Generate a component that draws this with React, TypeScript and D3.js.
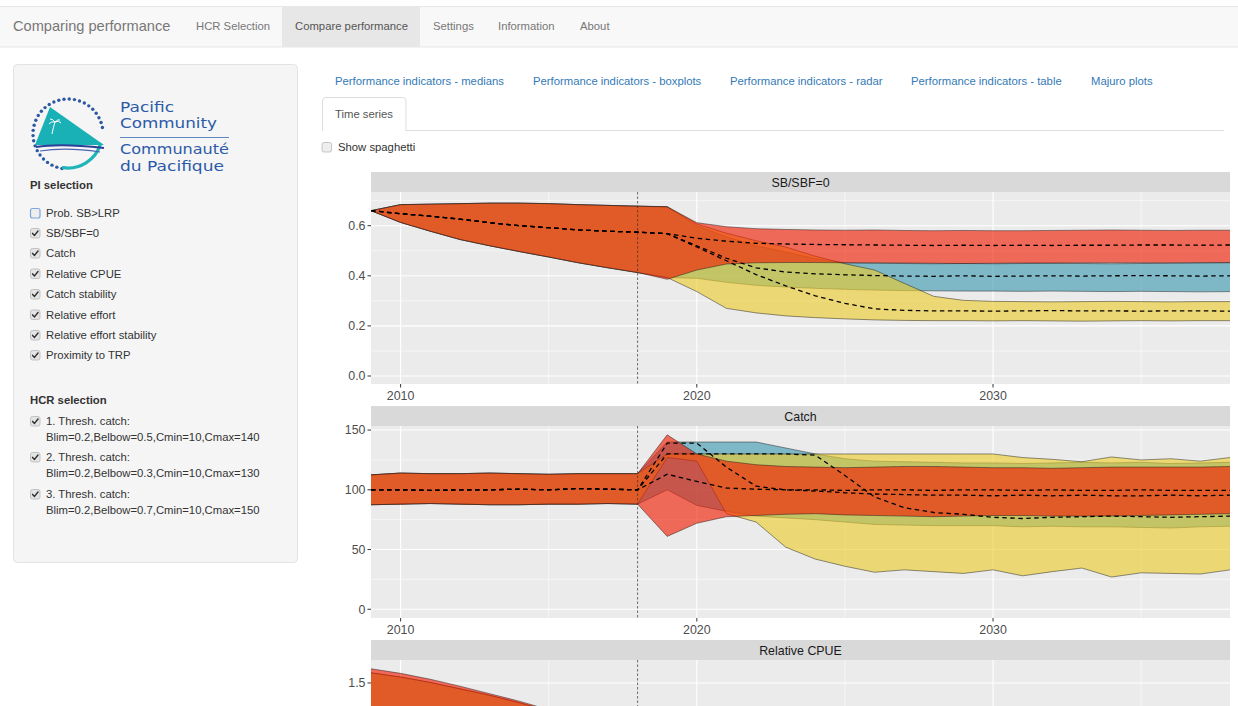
import * as d3 from "d3";

// ---- data ----
const years = [
  2009, 2010, 2011, 2012, 2013, 2014, 2015, 2016, 2017, 2018,
  2019, 2020, 2021, 2022, 2023, 2024, 2025, 2026, 2027, 2028,
  2029, 2030, 2031, 2032, 2033, 2034, 2035, 2036, 2037, 2038,
];
const hcrLabels = [
  ["1. Thresh. catch:", "Blim=0.2,Belbow=0.5,Cmin=10,Cmax=140"],
  ["2. Thresh. catch:", "Blim=0.2,Belbow=0.3,Cmin=10,Cmax=130"],
  ["3. Thresh. catch:", "Blim=0.2,Belbow=0.7,Cmin=10,Cmax=150"],
];
const hcrColours = ["#3B9AB2", "#EBCC2A", "#F21A00"];
const piLabels = [
  "Prob. SB>LRP", "SB/SBF=0", "Catch", "Relative CPUE", "Catch stability",
  "Relative effort", "Relative effort stability", "Proximity to TRP",
];
const piChecked = [false, true, true, true, true, true, true, true];
const navItems = ["HCR Selection", "Compare performance", "Settings", "Information", "About"];
const tabLinks = [
  "Performance indicators - medians", "Performance indicators - boxplots",
  "Performance indicators - radar", "Performance indicators - table", "Majuro plots",
];

// SB/SBF=0 : historical 2009-2018 (shared), projections 2019-2038 per HCR
const sbHistUpper = [0.66, 0.684, 0.686, 0.688, 0.69, 0.69, 0.688, 0.684, 0.681, 0.678];
const sbHistMedian = [0.66, 0.648, 0.638, 0.626, 0.612, 0.6, 0.592, 0.583, 0.578, 0.574];
const sbHistLower = [0.66, 0.613, 0.578, 0.545, 0.52, 0.497, 0.475, 0.452, 0.432, 0.413];
const sbUpper = [
  [0.675, 0.6, 0.555, 0.52, 0.495, 0.468, 0.452, 0.45, 0.449, 0.448, 0.449, 0.448, 0.449, 0.45, 0.449, 0.448, 0.449, 0.45, 0.451, 0.452],
  [0.675, 0.607, 0.57, 0.54, 0.515, 0.478, 0.448, 0.423, 0.37, 0.318, 0.302, 0.298, 0.297, 0.296, 0.297, 0.298, 0.297, 0.296, 0.297, 0.297],
  [0.676, 0.612, 0.596, 0.588, 0.585, 0.583, 0.582, 0.583, 0.581, 0.58, 0.581, 0.58, 0.58, 0.581, 0.582, 0.583, 0.582, 0.581, 0.582, 0.582],
];
const sbMedian = [
  [0.568, 0.52, 0.47, 0.432, 0.415, 0.408, 0.404, 0.401, 0.399, 0.398, 0.4, 0.398, 0.399, 0.4, 0.399, 0.4, 0.401, 0.4, 0.399, 0.4],
  [0.568, 0.515, 0.46, 0.405, 0.36, 0.32, 0.29, 0.268, 0.262, 0.26, 0.26, 0.259, 0.26, 0.261, 0.26, 0.26, 0.259, 0.26, 0.26, 0.259],
  [0.568, 0.55, 0.538, 0.53, 0.527, 0.525, 0.524, 0.523, 0.522, 0.521, 0.522, 0.521, 0.522, 0.521, 0.522, 0.522, 0.523, 0.523, 0.522, 0.523],
];
const sbLower = [
  [0.393, 0.39, 0.374, 0.362, 0.355, 0.35, 0.346, 0.343, 0.341, 0.34, 0.339, 0.339, 0.338, 0.339, 0.338, 0.337, 0.338, 0.337, 0.336, 0.337],
  [0.393, 0.337, 0.27, 0.252, 0.24, 0.233, 0.228, 0.224, 0.222, 0.221, 0.221, 0.22, 0.221, 0.22, 0.219, 0.22, 0.221, 0.22, 0.221, 0.221],
  [0.386, 0.423, 0.447, 0.452, 0.453, 0.453, 0.452, 0.452, 0.451, 0.45, 0.449, 0.45, 0.451, 0.451, 0.452, 0.452, 0.452, 0.452, 0.453, 0.453],
];

// Catch
const catchHistUpper = [112.5, 114, 113.5, 113.5, 114, 113.5, 113, 113.5, 113.5, 113.5];
const catchHistMedian = [100, 100, 99.5, 100, 100, 100.5, 100, 101, 100.5, 100];
const catchHistLower = [87.5, 88, 88.5, 88, 87.5, 87.5, 88, 88, 88.5, 88];
const catchUpper = [
  [140, 140, 140, 140, 135, 130, 126, 124, 123.5, 123, 122.5, 122.5, 122, 122.5, 123, 122.5, 123, 122, 122.5, 123],
  [130, 130, 130, 130, 130, 130, 130, 130, 130, 130, 130, 130, 127, 125.5, 123.5, 127.5, 125, 126, 124, 127],
  [146, 130, 124, 121, 119.5, 119, 118.5, 119, 119.5, 119.5, 119, 118.5, 118.5, 118, 118.5, 119, 119, 119, 119, 119.5],
];
const catchMedian = [
  [139, 139, 119, 103, 100, 99, 97.5, 96.5, 96, 95.5, 95.5, 95, 95.5, 95, 95.5, 95, 95, 95.5, 95, 95.5],
  [130, 130, 130, 130, 130, 129, 112, 94, 85, 81, 79.5, 77, 76, 77, 77.5, 78, 77.5, 77, 77.5, 78],
  [113, 107, 101.5, 100.5, 100, 100, 99.5, 100, 100, 99.5, 100, 100, 99.5, 100, 99.5, 99.5, 100, 99.5, 99.5, 99.5],
];
const catchLower = [
  [100, 87, 82, 78, 76.5, 75, 73, 71, 70.5, 70, 70, 70, 69, 69.5, 69, 69, 68.5, 68, 69, 69.5],
  [127, 124, 80, 73, 52, 42, 36, 31, 33, 31.5, 30, 33, 28, 31.5, 34.5, 27, 30.5, 30, 29.5, 33],
  [61, 72, 77.5, 78.5, 79.5, 80, 79, 78.5, 78, 77.5, 78, 78.5, 78.5, 78, 78, 78, 78.5, 79, 79.5, 80],
];

// Relative CPUE (only the top of this panel is on screen)
const cpueHistUpper = [
  [1.595, 1.555, 1.505, 1.445, 1.385, 1.315, 1.24, 1.17, 1.11, 1.06],
  [1.595, 1.555, 1.505, 1.445, 1.385, 1.315, 1.24, 1.17, 1.11, 1.06],
  [1.633, 1.59, 1.535, 1.47, 1.4, 1.33, 1.25, 1.18, 1.12, 1.07],
];
const cpueHistMedian = [1.2, 1.17, 1.13, 1.09, 1.04, 0.99, 0.94, 0.9, 0.86, 0.83];
const cpueHistLower = [0.85, 0.84, 0.81, 0.78, 0.74, 0.7, 0.66, 0.63, 0.6, 0.58];
const cpueUpper = [
  [1.06, 0.98, 0.92, 0.87, 0.84, 0.82, 0.81, 0.8, 0.8, 0.8, 0.79, 0.8, 0.8, 0.79, 0.8, 0.8, 0.8, 0.79, 0.8, 0.8],
  [1.06, 0.99, 0.93, 0.88, 0.84, 0.8, 0.76, 0.71, 0.64, 0.57, 0.54, 0.53, 0.53, 0.52, 0.53, 0.53, 0.52, 0.53, 0.53, 0.52],
  [1.07, 1.04, 1.03, 1.03, 1.03, 1.03, 1.02, 1.03, 1.02, 1.02, 1.02, 1.02, 1.02, 1.03, 1.03, 1.03, 1.02, 1.02, 1.03, 1.03],
];
const cpueMedian = [
  [0.84, 0.78, 0.72, 0.67, 0.64, 0.63, 0.62, 0.62, 0.61, 0.61, 0.61, 0.61, 0.6, 0.61, 0.61, 0.61, 0.6, 0.61, 0.61, 0.61],
  [0.84, 0.77, 0.7, 0.62, 0.55, 0.49, 0.44, 0.41, 0.4, 0.39, 0.39, 0.39, 0.39, 0.39, 0.39, 0.39, 0.39, 0.39, 0.39, 0.39],
  [0.84, 0.83, 0.82, 0.81, 0.81, 0.8, 0.8, 0.8, 0.8, 0.8, 0.8, 0.8, 0.8, 0.8, 0.8, 0.8, 0.8, 0.8, 0.8, 0.8],
];
const cpueLower = [
  [0.58, 0.57, 0.55, 0.53, 0.52, 0.51, 0.5, 0.5, 0.49, 0.49, 0.49, 0.49, 0.48, 0.49, 0.49, 0.48, 0.49, 0.49, 0.48, 0.49],
  [0.58, 0.5, 0.41, 0.37, 0.35, 0.34, 0.33, 0.33, 0.32, 0.32, 0.32, 0.32, 0.32, 0.32, 0.32, 0.32, 0.32, 0.32, 0.32, 0.32],
  [0.57, 0.63, 0.66, 0.67, 0.67, 0.67, 0.67, 0.67, 0.66, 0.66, 0.66, 0.67, 0.67, 0.67, 0.67, 0.67, 0.67, 0.67, 0.67, 0.67],
];

const xTicks = [2010, 2020, 2030];
const xMinor = [2015, 2025, 2035];
const lastHistoricYear = 2018;

const FONT = "'Liberation Sans', Arial, Helvetica, sans-serif";
const VIEW_H = 706;

interface PanelSpec {
  title: string;
  top: number;
  upper: number[][];
  median: number[][];
  lower: number[][];
  domain: [number, number];
  ticks: number[];
  minor: number[];
  fmt: (v: number) => string;
}

const panels: PanelSpec[] = [
  {
    title: "SB/SBF=0",
    top: 172,
    upper: sbUpper.map((p) => sbHistUpper.concat(p)),
    median: sbMedian.map((p) => sbHistMedian.concat(p)),
    lower: sbLower.map((p) => sbHistLower.concat(p)),
    domain: [-0.0319, 0.7345],
    ticks: [0, 0.2, 0.4, 0.6],
    minor: [0.1, 0.3, 0.5, 0.7],
    fmt: d3.format(".1f"),
  },
  {
    title: "Catch",
    top: 406,
    upper: catchUpper.map((p) => catchHistUpper.concat(p)),
    median: catchMedian.map((p) => catchHistMedian.concat(p)),
    lower: catchLower.map((p) => catchHistLower.concat(p)),
    domain: [-7.3, 153.4],
    ticks: [0, 50, 100, 150],
    minor: [25, 75, 125],
    fmt: d3.format("d"),
  },
  {
    title: "Relative CPUE",
    top: 640,
    upper: cpueUpper.map((p, i) => cpueHistUpper[i].concat(p)),
    median: cpueMedian.map((p) => cpueHistMedian.concat(p)),
    lower: cpueLower.map((p) => cpueHistLower.concat(p)),
    domain: [-0.0817, 1.715],
    ticks: [0, 0.5, 1, 1.5],
    minor: [0.25, 0.75, 1.25],
    fmt: d3.format(".1f"),
  },
];

const PX0 = 371;
const PX1 = 1230;
const STRIP = 20;
const PH = 192;

function Panel({ spec, idx }: { spec: PanelSpec; idx: number }) {
  const x = d3.scaleLinear().domain([2009, 2038]).range([PX0, PX1]);
  const pTop = spec.top + STRIP;
  const pBot = pTop + PH;
  const y = d3.scaleLinear().domain(spec.domain).range([pBot, pTop]);
  const line = (vals: number[]) =>
    d3.line<number>().x((_, i) => x(years[i])).y((v) => y(v))(vals) || "";
  const clip = `panel-clip-${idx}`;
  // the page is cut at the window's bottom edge: labels below it are not drawn
  const yTickLabels = spec.ticks.filter((v) => y(v) + 5 < VIEW_H);
  const showXLabels = pBot + 16 < VIEW_H;
  return (
    <g>
      <defs>
        <clipPath id={clip}>
          <rect x={PX0} y={pTop} width={PX1 - PX0} height={PH} />
        </clipPath>
      </defs>
      <rect x={PX0} y={spec.top} width={PX1 - PX0} height={STRIP} fill="#D9D9D9" />
      <text x={(PX0 + PX1) / 2} y={spec.top + 14.5} textAnchor="middle" fontSize={12.4} fill="#1A1A1A">
        {spec.title}
      </text>
      <rect x={PX0} y={pTop} width={PX1 - PX0} height={PH} fill="#EBEBEB" />
      <g clipPath={`url(#${clip})`}>
        {spec.minor.map((v) => (
          <line key={"ym" + v} x1={PX0} x2={PX1} y1={y(v)} y2={y(v)} stroke="#fff" strokeWidth={0.55} />
        ))}
        {xMinor.map((v) => (
          <line key={"xm" + v} x1={x(v)} x2={x(v)} y1={pTop} y2={pBot} stroke="#fff" strokeWidth={0.55} />
        ))}
        {spec.ticks.map((v) => (
          <line key={"y" + v} x1={PX0} x2={PX1} y1={y(v)} y2={y(v)} stroke="#fff" strokeWidth={1.1} />
        ))}
        {xTicks.map((v) => (
          <line key={"x" + v} x1={x(v)} x2={x(v)} y1={pTop} y2={pBot} stroke="#fff" strokeWidth={1.1} />
        ))}
        {spec.upper.map((up, h) => {
          const lo = spec.lower[h];
          const a = d3
            .area<number>()
            .x((_, i) => x(years[i]))
            .y0((_, i) => y(lo[i]))
            .y1((v) => y(v))(up) || "";
          return (
            <g key={"rib" + h}>
              <path d={a} fill={hcrColours[h]} fillOpacity={0.62} />
              <path d={line(up)} fill="none" stroke="#1a1a1a" strokeOpacity={0.8} strokeWidth={0.6} />
              <path d={line(lo)} fill="none" stroke="#1a1a1a" strokeOpacity={0.8} strokeWidth={0.6} />
            </g>
          );
        })}
        <line
          x1={x(lastHistoricYear)}
          x2={x(lastHistoricYear)}
          y1={pTop}
          y2={pBot}
          stroke="#333"
          strokeWidth={0.7}
          strokeDasharray="2.5,2"
        />
        {spec.median.map((m, h) => (
          <path key={"med" + h} d={line(m)} fill="none" stroke="#000" strokeWidth={1.3} strokeDasharray="4.5,3.5" />
        ))}
      </g>
      {spec.ticks.map((v) => (
        <line key={"ytm" + v} x1={PX0 - 3.5} x2={PX0} y1={y(v)} y2={y(v)} stroke="#333" strokeWidth={1} />
      ))}
      {yTickLabels.map((v) => (
        <text key={"yt" + v} x={PX0 - 5.5} y={y(v) + 4.4} textAnchor="end" fontSize={12.4} fill="#4D4D4D">
          {spec.fmt(v)}
        </text>
      ))}
      {xTicks.map((v) => (
        <g key={"xt" + v}>
          <line x1={x(v)} x2={x(v)} y1={pBot} y2={pBot + 3.5} stroke="#333" strokeWidth={1} />
          {showXLabels && (
            <text x={x(v)} y={pBot + 15.5} textAnchor="middle" fontSize={12.4} fill="#4D4D4D">
              {v}
            </text>
          )}
        </g>
      ))}
    </g>
  );
}

function CheckBox({ x, y, checked, focus }: { x: number; y: number; checked: boolean; focus?: boolean }) {
  return (
    <g>
      <rect
        x={x + 0.5}
        y={y + 0.5}
        width={9.5}
        height={9.5}
        rx={2}
        fill={checked ? "#e4e4e4" : "#eeeeee"}
        stroke={focus ? "#7ea7e0" : "#b8b8b8"}
        strokeWidth={focus ? 1.2 : 0.8}
      />
      {checked && (
        <path
          d={`M${x + 2.6},${y + 5.4} L${x + 4.5},${y + 7.4} L${x + 8},${y + 3}`}
          fill="none"
          stroke="#333"
          strokeWidth={1.5}
          strokeLinecap="round"
          strokeLinejoin="round"
        />
      )}
    </g>
  );
}

function Logo() {
  const cx = 68;
  const cy = 134;
  const r = 35;
  const dotAngles = d3.range(100, 356, 8.6);
  const rad = (a: number) => (a * Math.PI) / 180;
  const arcStart = [cx + (r - 1) * Math.cos(rad(98)), cy + (r - 1) * Math.sin(rad(98))];
  const arcEnd = [cx + (r - 1) * Math.cos(rad(18)), cy + (r - 1) * Math.sin(rad(18))];
  const logoText = "#2c5aa8";
  const logoFont = "'DejaVu Sans', sans-serif";
  return (
    <g>
      {dotAngles.map((a) => (
        <circle key={a} cx={cx + r * Math.cos(rad(a))} cy={cy + r * Math.sin(rad(a))} r={1.7} fill="#2b57a3" />
      ))}
      <path
        d={`M${arcStart[0]},${arcStart[1]} A${r - 1},${r - 1} 0 0 0 ${arcEnd[0]},${arcEnd[1]}`}
        fill="none"
        stroke="#1fb5b8"
        strokeWidth={3.2}
        strokeLinecap="round"
      />
      <path d="M50,107 L35,145 L104,145 Z" fill="#19b1b5" />
      <path
        d="M52,134 Q53,128 55,122 M55,122 q-4,-1 -6,2 M55,122 q4,-2 6,1 M55,122 q-2,-3 -5,-3 M55,122 q3,-3 5,-2"
        fill="none"
        stroke="#fff"
        strokeWidth={1}
      />
      <path d="M36,147 Q60,143 104,148" fill="none" stroke="#2d3f96" strokeWidth={2} />
      <path d="M40,151 Q66,147 100,152" fill="none" stroke="#4a63b0" strokeWidth={1.2} />
      <text x={120} y={111.5} fontSize={14.5} fill={logoText} fontFamily={logoFont} textLength={54} lengthAdjust="spacingAndGlyphs">
        Pacific
      </text>
      <text x={120} y={128} fontSize={14.5} fill={logoText} fontFamily={logoFont} textLength={97} lengthAdjust="spacingAndGlyphs">
        Community
      </text>
      <line x1={120} x2={229} y1={137.5} y2={137.5} stroke="#5f86c4" strokeWidth={1} />
      <text x={120} y={154} fontSize={14.5} fill={logoText} fontFamily={logoFont} textLength={109} lengthAdjust="spacingAndGlyphs">
        Communauté
      </text>
      <text x={120} y={170.5} fontSize={14.5} fill={logoText} fontFamily={logoFont} textLength={104} lengthAdjust="spacingAndGlyphs">
        du Pacifique
      </text>
    </g>
  );
}

export default function App() {
  const navX = [196, 295, 433, 498, 580];
  const tabX = [335, 533, 730, 911, 1091];
  const piY = [213, 233, 253, 273.5, 294, 314.5, 335, 355];
  const hcrY = [421, 457, 494];
  return (
    <div style={{ position: "fixed", left: 0, top: 0, width: 1238, height: VIEW_H, overflow: "hidden", background: "#fff" }}>
      <svg width={1238} height={VIEW_H} style={{ display: "block", fontFamily: FONT }}>
        {/* navbar */}
        <rect x={-1} y={6.5} width={1240} height={40.5} fill="#f8f8f8" stroke="#e7e7e7" />
        <rect x={282} y={7} width={138} height={40} fill="#e7e7e7" />
        <text x={13} y={31} fontSize={14.6} fill="#777">
          Comparing performance
        </text>
        {navItems.map((t, i) => (
          <text key={t} x={navX[i]} y={30} fontSize={11.3} fill={i === 1 ? "#555" : "#777"}>
            {t}
          </text>
        ))}

        {/* sidebar */}
        <rect x={13.5} y={64.5} width={284} height={498} rx={4} fill="#f5f5f5" stroke="#e3e3e3" />
        <Logo />
        <text x={30} y={189} fontSize={11.3} fontWeight="bold" fill="#333">
          PI selection
        </text>
        {piLabels.map((t, i) => (
          <g key={t}>
            <CheckBox x={30} y={piY[i] - 5} checked={piChecked[i]} focus={i === 0} />
            <text x={46} y={piY[i] + 4} fontSize={11.3} fill="#333">
              {t}
            </text>
          </g>
        ))}
        <text x={30} y={404} fontSize={11.3} fontWeight="bold" fill="#333">
          HCR selection
        </text>
        {hcrLabels.map((lab, i) => (
          <g key={lab[1]}>
            <CheckBox x={30} y={hcrY[i] - 5} checked={true} />
            <text x={46} y={hcrY[i] + 4} fontSize={11.3} fill="#333">
              {lab[0]}
            </text>
            <text x={46} y={hcrY[i] + 20} fontSize={11.3} fill="#333">
              {lab[1]}
            </text>
          </g>
        ))}

        {/* tabs */}
        {tabLinks.map((t, i) => (
          <text key={t} x={tabX[i]} y={84.5} fontSize={11.3} fill="#337ab7">
            {t}
          </text>
        ))}
        <line x1={322} x2={1224} y1={130.5} y2={130.5} stroke="#ddd" />
        <path d="M322.5,131 L322.5,101 Q322.5,97.5 326,97.5 L402.5,97.5 Q406,97.5 406,101 L406,131" fill="#fff" stroke="#ddd" />
        <text x={335} y={117.5} fontSize={11.3} fill="#555">
          Time series
        </text>
        <CheckBox x={321.5} y={142} checked={false} />
        <text x={338} y={151} fontSize={11.3} fill="#333">
          Show spaghetti
        </text>

        {/* plots */}
        {panels.map((p, i) => (
          <Panel key={p.title} spec={p} idx={i} />
        ))}
      </svg>
    </div>
  );
}
